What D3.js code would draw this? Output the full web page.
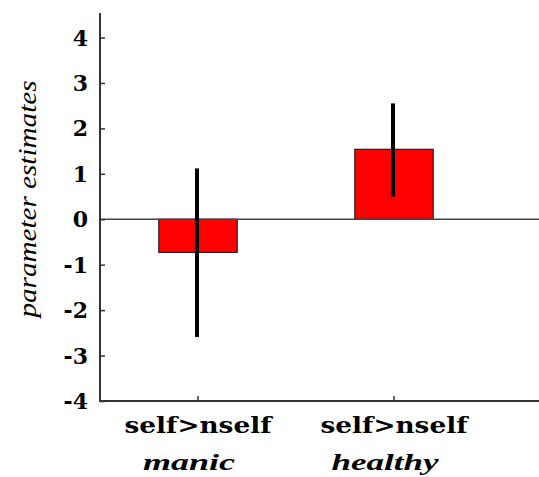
<!DOCTYPE html>
<html>
<head>
<meta charset="utf-8">
<script src="https://cdn.jsdelivr.net/npm/d3@7"></script>
<style>
  html, body { margin: 0; padding: 0; background: #fff; }
  svg { display: block; }
</style>
</head>
<body>
<svg id="chart" width="539" height="477"></svg>
<script>
// ---- data ----
const categories = ["self>nself manic", "self>nself healthy"];
const contrastLabels = ["self>nself", "self>nself"];
const groupLabels = ["manic", "healthy"];
const values = [-0.73, 1.54];
const errLow = [-2.59, 0.50];
const errHigh = [1.12, 2.55];
const yTicks = [-4, -3, -2, -1, 0, 1, 2, 3, 4];
const yLabel = "parameter estimates";

// ---- layout ----
const W = 539, H = 477;
const mLeft = 100, mRight = 539, mTop = 13, mBottom = 401;
const SERIF_BOLD = '"DejaVu Serif", serif';
const SERIF = '"Liberation Serif", serif';

const svg = d3.select("#chart");

const y = d3.scaleLinear().domain([-4, 4.54]).range([mBottom, mTop]);
const x = d3.scaleBand().domain(categories).range([mLeft, 492])
  .paddingInner(0.6).paddingOuter(0.3);

// bars
svg.selectAll("rect.bar").data(values).enter().append("rect")
  .attr("class", "bar")
  .attr("x", (d, i) => x(categories[i]))
  .attr("width", x.bandwidth())
  .attr("y", d => y(Math.max(0, d)))
  .attr("height", d => Math.abs(y(d) - y(0)))
  .attr("fill", "#ff0000")
  .attr("stroke", "#222")
  .attr("stroke-width", 1.2);

// zero line
svg.append("line")
  .attr("x1", mLeft).attr("x2", mRight)
  .attr("y1", y(0)).attr("y2", y(0))
  .attr("stroke", "#444").attr("stroke-width", 1.6);

// error bars
svg.selectAll("line.err").data(values).enter().append("line")
  .attr("class", "err")
  .attr("x1", (d, i) => x(categories[i]) + x.bandwidth() / 2 - 1)
  .attr("x2", (d, i) => x(categories[i]) + x.bandwidth() / 2 - 1)
  .attr("y1", (d, i) => y(errHigh[i]))
  .attr("y2", (d, i) => y(errLow[i]))
  .attr("stroke", "#000").attr("stroke-width", 4);

// y axis
const yAxis = d3.axisRight(y).tickValues(yTicks).tickSize(5).tickFormat("");
const gy = svg.append("g").attr("transform", `translate(${mLeft},0)`).call(yAxis);
gy.select(".domain").remove();
gy.selectAll(".tick line").attr("stroke", "#333").attr("stroke-width", 1.5);
svg.append("line").attr("x1", mLeft).attr("x2", mLeft).attr("y1", mTop).attr("y2", mBottom)
  .attr("stroke", "#333").attr("stroke-width", 2);

svg.selectAll("text.ytick").data(yTicks).enter().append("text")
  .attr("class", "ytick")
  .attr("x", 88)
  .attr("y", d => y(d) + 8)
  .attr("text-anchor", "end")
  .style("font-family", SERIF_BOLD)
  .style("font-weight", "bold")
  .style("font-size", "22px")
  .attr("fill", "#000")
  .text(d => d);

// x axis
const xAxis = d3.axisTop(x).tickSize(5).tickFormat("");
const gx = svg.append("g").attr("transform", `translate(0,${mBottom})`).call(xAxis);
gx.select(".domain").remove();
gx.selectAll(".tick line").attr("stroke", "#333").attr("stroke-width", 1.5);
svg.append("line").attr("x1", mLeft - 1).attr("x2", mRight).attr("y1", mBottom).attr("y2", mBottom)
  .attr("stroke", "#333").attr("stroke-width", 2);

svg.selectAll("text.xlab").data(contrastLabels).enter().append("text")
  .attr("class", "xlab")
  .attr("x", (d, i) => x(categories[i]) + x.bandwidth() / 2)
  .attr("y", 433)
  .attr("text-anchor", "middle")
  .style("font-family", SERIF_BOLD)
  .style("font-weight", "bold")
  .style("font-size", "22px")
  .attr("textLength", 147)
  .attr("lengthAdjust", "spacingAndGlyphs")
  .attr("fill", "#000")
  .text(d => d);

const groupWidths = [92, 107];
svg.selectAll("text.glab").data(groupLabels).enter().append("text")
  .attr("class", "glab")
  .attr("x", (d, i) => x(categories[i]) + x.bandwidth() / 2 - 9)
  .attr("y", 470)
  .attr("text-anchor", "middle")
  .style("font-family", SERIF)
  .style("font-style", "italic")
  .style("font-weight", "bold")
  .style("font-size", "24px")
  .attr("textLength", (d, i) => groupWidths[i])
  .attr("lengthAdjust", "spacingAndGlyphs")
  .attr("fill", "#000")
  .text(d => d);

// y label
svg.append("text")
  .attr("transform", `translate(36,199) rotate(-90)`)
  .attr("text-anchor", "middle")
  .style("font-family", SERIF)
  .style("font-style", "italic")
  .style("font-size", "26px")
  .attr("textLength", 237)
  .attr("lengthAdjust", "spacingAndGlyphs")
  .attr("fill", "#000")
  .text(yLabel);
</script>
</body>
</html>
